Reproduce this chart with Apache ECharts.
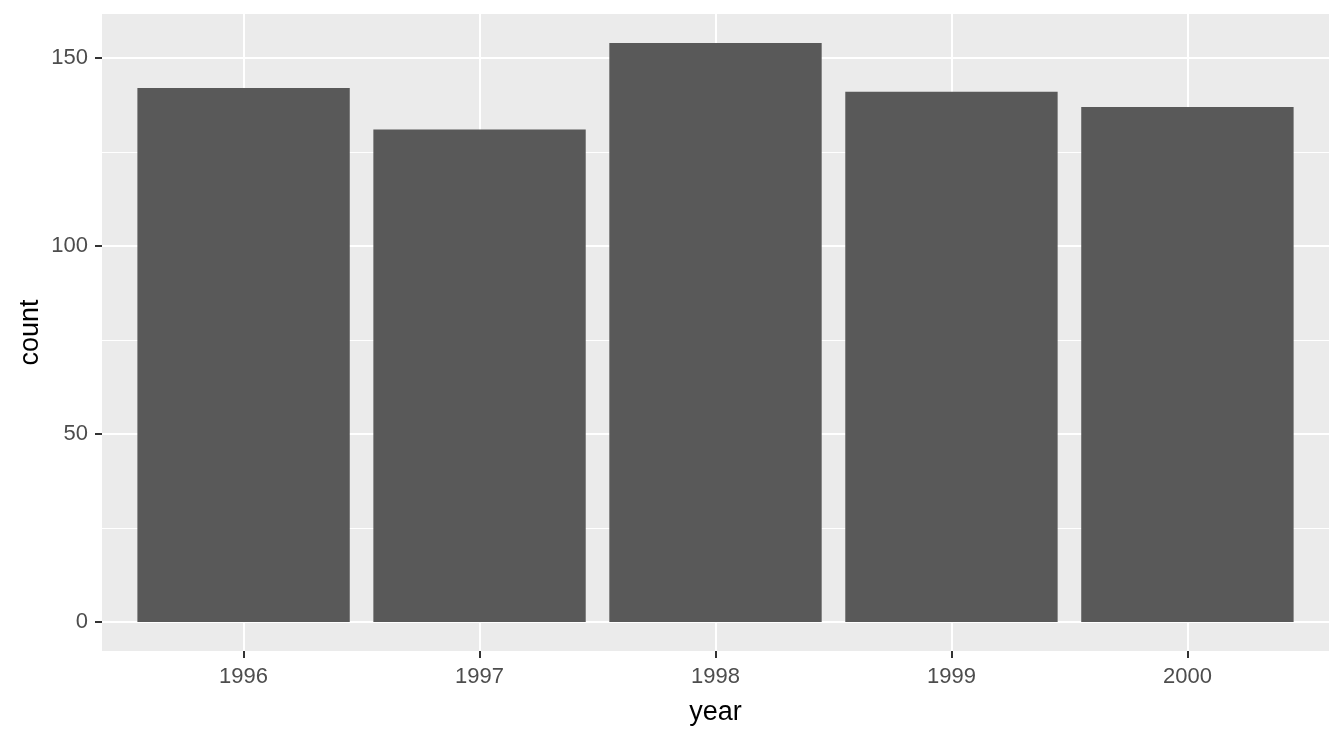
<!DOCTYPE html>
<html><head><meta charset="utf-8">
<script src="https://cdn.jsdelivr.net/npm/echarts@6/dist/echarts.min.js"></script>
<style>html,body{margin:0;padding:0;background:#fff}#c{width:1344px;height:739px}</style>
</head><body><div id="c"></div>
<script>
const years = ['1996', '1997', '1998', '1999', '2000'];
const counts = [142, 131, 154, 141, 137];
const yMajorTicks = [0, 50, 100, 150];
const yMinorTicks = [25, 75, 125];

const positions = years.map((_, i) => i + 1);
const yMax = Math.max(...counts);
const yPad = yMax * 0.05;
const gridL = 102, gridR = 15, gridT = 14, gridB = 88;
const unitPx = (1344 - gridL - gridR) / 5.2;
const font = '"Liberation Sans", Arial, sans-serif';

const chart = echarts.init(document.getElementById('c'), null, {renderer: 'canvas'});
chart.setOption({
  animation: false,
  backgroundColor: '#ffffff',
  grid: {left: gridL, right: gridR, top: gridT, bottom: gridB, containLabel: false,
         show: true, backgroundColor: '#EBEBEB', borderWidth: 0},
  xAxis: {
    type: 'value', min: 0.4, max: 5.6, position: 'bottom',
    name: 'year', nameLocation: 'middle', nameGap: 48, nameMoveOverlap: false,
    nameTextStyle: {color: '#000', fontSize: 27, fontFamily: font},
    axisLine: {show: true, onZero: false, lineStyle: {color: 'rgba(0,0,0,0)', width: 0}},
    axisTick: {show: true, inside: false, customValues: positions, length: 7, lineStyle: {color: '#333333', width: 2}},
    axisLabel: {customValues: positions, formatter: v => years[Math.round(v) - 1],
                color: '#4D4D4D', fontSize: 22, fontFamily: font, margin: 15},
    splitLine: {show: true, lineStyle: {color: '#ffffff', width: 2}}
  },
  yAxis: [{
    type: 'value', min: -yPad, max: yMax + yPad,
    name: 'count', nameLocation: 'middle', nameGap: 58, nameRotate: 90, nameMoveOverlap: false,
    nameTextStyle: {color: '#000', fontSize: 27, fontFamily: font},
    axisLine: {show: false, onZero: false},
    axisTick: {show: true, customValues: yMajorTicks, length: 7, lineStyle: {color: '#333333', width: 2}},
    axisLabel: {customValues: yMajorTicks, color: '#4D4D4D', fontSize: 22, fontFamily: font, margin: 14},
    splitLine: {show: true, lineStyle: {color: '#ffffff', width: 2}}
  }, {
    type: 'value', min: -yPad, max: yMax + yPad, position: 'left',
    axisLine: {show: false, onZero: false},
    axisTick: {show: false, customValues: yMinorTicks},
    axisLabel: {show: false, customValues: yMinorTicks},
    splitLine: {show: true, lineStyle: {color: '#ffffff', width: 1}}
  }],
  series: [{
    type: 'bar', xAxisIndex: 0, yAxisIndex: 0,
    data: positions.map((p, i) => [p, counts[i]]),
    barWidth: unitPx * 0.9,
    itemStyle: {color: '#595959'},
    z: 3
  }]
});
</script></body></html>
